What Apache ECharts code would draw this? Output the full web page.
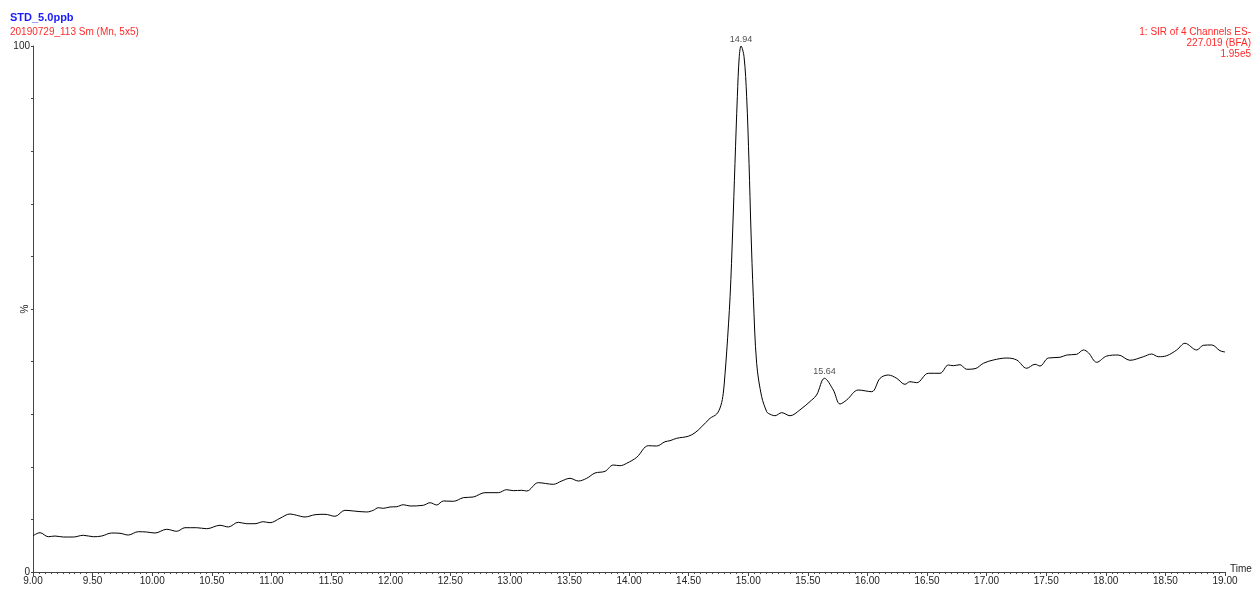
<!DOCTYPE html>
<html>
<head>
<meta charset="utf-8">
<script src="https://cdn.jsdelivr.net/npm/echarts@6/dist/echarts.min.js"></script>
<style>
  html, body { margin: 0; padding: 0; background: #fff; }
  #chart { width: 1254px; height: 590px; }
</style>
</head>
<body>
<div id="chart"></div>
<script>
// Retention time (min) of each trace sample
const times = [
  9.00, 9.059, 9.128, 9.185, 9.254, 9.338, 9.422, 9.506, 9.576, 9.660,
  9.730, 9.799, 9.883, 9.954, 10.023, 10.122, 10.206, 10.275, 10.373, 10.457,
  10.569, 10.638, 10.722, 10.793, 10.862, 10.932, 10.988, 11.072, 11.156, 11.212,
  11.282, 11.366, 11.450, 11.534, 11.617, 11.687, 11.799, 11.855, 11.897, 11.939,
  11.995, 12.051, 12.107, 12.163, 12.274, 12.331, 12.387, 12.442, 12.526, 12.610,
  12.694, 12.792, 12.904, 12.974, 13.029, 13.100, 13.142, 13.239, 13.365, 13.435,
  13.505, 13.575, 13.645, 13.715, 13.799, 13.868, 13.924, 13.981, 14.065, 14.162,
  14.232, 14.302, 14.344, 14.400, 14.497, 14.554, 14.610, 14.680, 14.736, 14.770,
  14.791, 14.805, 14.820, 14.848, 14.870, 14.889, 14.909, 14.925, 14.94, 14.965,
  14.987, 15.007, 15.023, 15.043, 15.071, 15.113, 15.155, 15.168, 15.225, 15.281,
  15.351, 15.433, 15.533, 15.574, 15.64, 15.714, 15.770, 15.826, 15.924, 16.036,
  16.106, 16.175, 16.246, 16.315, 16.357, 16.414, 16.511, 16.609, 16.679, 16.721,
  16.777, 16.833, 16.903, 16.973, 17.056, 17.169, 17.253, 17.336, 17.406, 17.448,
  17.518, 17.616, 17.672, 17.756, 17.812, 17.854, 17.924, 18.008, 18.105, 18.203,
  18.315, 18.385, 18.441, 18.511, 18.595, 18.664, 18.763, 18.818, 18.889, 18.958,
  19.00
];

// Relative intensity (%) at each retention time
const intensity = [
  6.90, 7.47, 6.71, 6.84, 6.65, 6.65, 6.98, 6.71, 6.84, 7.41,
  7.36, 7.03, 7.66, 7.60, 7.41, 8.12, 7.74, 8.42, 8.42, 8.23,
  8.88, 8.56, 9.45, 9.18, 9.18, 9.56, 9.37, 10.21, 11.03, 10.78,
  10.46, 10.89, 10.97, 10.59, 11.73, 11.60, 11.41, 11.73, 12.22, 12.11,
  12.36, 12.41, 12.79, 12.55, 12.68, 13.17, 12.74, 13.50, 13.44, 14.13,
  14.26, 15.08, 15.08, 15.65, 15.46, 15.53, 15.40, 16.98, 16.67, 17.30,
  17.81, 17.30, 17.81, 18.82, 19.14, 20.34, 20.21, 20.67, 21.81, 24.01,
  23.95, 24.77, 24.96, 25.42, 25.80, 26.48, 27.62, 29.22, 30.04, 31.60,
  34.00, 37.50, 42.00, 52.34, 65.02, 77.70, 90.36, 97.97, 100.0, 97.97,
  90.36, 77.70, 65.02, 52.34, 39.68, 33.33, 30.48, 30.17, 29.71, 30.29,
  29.71, 30.80, 32.70, 33.65, 36.82, 34.60, 31.94, 32.70, 34.60, 34.28,
  36.82, 37.45, 36.82, 35.68, 36.18, 35.99, 37.78, 37.78, 39.35, 39.22,
  39.41, 38.54, 38.65, 39.68, 40.30, 40.68, 40.30, 38.73, 39.49, 39.16,
  40.68, 40.82, 41.25, 41.39, 42.21, 41.69, 39.87, 41.06, 41.25, 40.25,
  40.93, 41.44, 40.93, 41.12, 42.21, 43.48, 42.21, 43.10, 43.16, 42.07,
  41.83
];

// Labelled peak apexes
const peakTimes = [14.94, 15.64];
const peakHeights = [100.0, 36.82];
const peakLabels = ['14.94', '15.64'];

// Axis tick labels
const xMin = 9, xMax = 19, xStep = 0.5;
const yLabelValues = [0, 100];
const yUnitAt = 50;

// Header text lines
const sampleName = 'STD_5.0ppb';
const runInfo = '20190729_113 Sm (Mn, 5x5)';
const channelLines = ['1: SIR of 4 Channels ES-', '227.019 (BFA)', '1.95e5'];

const traceData = times.map((t, i) => [t, intensity[i]]);
const peakData = peakTimes.map((t, i) => ({ value: [t, peakHeights[i]], name: peakLabels[i] }));

const FONT = '"Liberation Sans", Arial, sans-serif';
const RED = '#ff2a2a';

const chart = echarts.init(document.getElementById('chart'), null, { renderer: 'canvas' });

const titles = [
  { text: sampleName, left: 10, top: 12, padding: 0,
    textStyle: { color: '#1a1aff', fontSize: 11, fontWeight: 'bold', fontFamily: FONT } },
  { text: runInfo, left: 10, top: 27, padding: 0,
    textStyle: { color: RED, fontSize: 10, fontWeight: 'normal', fontFamily: FONT } }
].concat(channelLines.map((line, i) => ({
  text: line, right: 3, top: 27 + i * 11, padding: 0,
  textStyle: { color: RED, fontSize: 10, fontWeight: 'normal', fontFamily: FONT }
})));

chart.setOption({
  animation: false,
  backgroundColor: '#ffffff',
  textStyle: { fontFamily: FONT },
  title: titles,
  grid: { left: 33, right: 29, top: 46, bottom: 18, containLabel: false, outerBoundsMode: 'none' },
  xAxis: {
    type: 'value',
    min: xMin, max: xMax, interval: xStep,
    name: 'Time',
    nameLocation: 'end',
    nameGap: 5,
    nameTextStyle: { color: '#222', fontSize: 10, fontFamily: FONT, verticalAlign: 'bottom', padding: [0, 0, -2, 0] },
    axisLine: { show: true, onZero: false, lineStyle: { color: '#444', width: 1 } },
    axisTick: { show: true, inside: false, length: 4, lineStyle: { color: '#444' } },
    minorTick: { show: true, splitNumber: 10, length: 2, lineStyle: { color: '#444' } },
    axisLabel: { color: '#222', fontSize: 10, margin: 4, fontFamily: FONT,
      formatter: v => v.toFixed(2) },
    splitLine: { show: false }
  },
  yAxis: {
    type: 'value',
    min: 0, max: 100, interval: 10,
    axisLine: { show: true, lineStyle: { color: '#444', width: 1 } },
    axisTick: { show: true, inside: false, length: 2, lineStyle: { color: '#444' } },
    axisLabel: { color: '#222', fontSize: 10, margin: 3, fontFamily: FONT,
      formatter: v => (yLabelValues.indexOf(v) >= 0 ? String(v) : '') },
    splitLine: { show: false }
  },
  series: [
    {
      type: 'line',
      data: traceData,
      smooth: 0.35,
      showSymbol: false,
      lineStyle: { color: '#000', width: 1 },
      z: 2
    },
    {
      type: 'scatter',
      data: peakData,
      symbolSize: 0,
      label: { show: true, position: 'top', distance: 2, color: '#222', fontSize: 9,
        fontFamily: FONT, formatter: p => p.name },
      z: 3
    }
  ]
});

// Rotated "%" unit mark beside the intensity axis, placed through the axis scale
const unitY = chart.convertToPixel({ yAxisIndex: 0 }, yUnitAt);
const axisX = chart.convertToPixel({ xAxisIndex: 0 }, xMin);
chart.setOption({
  graphic: [{
    type: 'text',
    x: axisX - 8,
    y: unitY,
    rotation: Math.PI / 2,
    style: { text: '%', fill: '#222', font: '10px ' + FONT, align: 'center', verticalAlign: 'middle' }
  }]
});
</script>
</body>
</html>
